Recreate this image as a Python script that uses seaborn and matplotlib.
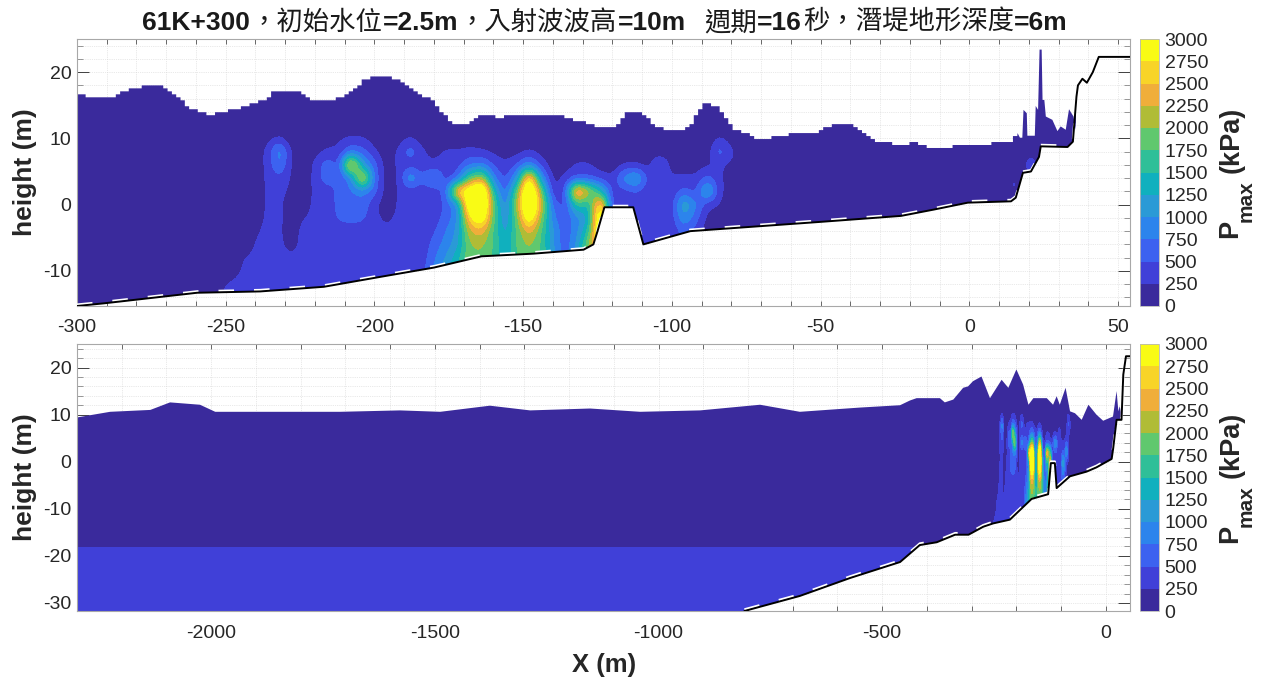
import numpy as np
import matplotlib
matplotlib.use("Agg")
import matplotlib.pyplot as plt
from matplotlib.colors import ListedColormap, BoundaryNorm
from matplotlib.patches import Polygon
from matplotlib.ticker import MultipleLocator
import seaborn as sns

sns.set_style("white")
plt.rcParams["font.family"] = ["Liberation Sans", "Noto Sans CJK TC", "DejaVu Sans"]
plt.rcParams["axes.unicode_minus"] = False

# ---- data ----
levels = list(range(0, 3001, 250))
level_colors = ["#3A2A9C", "#4040D8", "#3C62F0", "#2C84EC", "#2A9AD6", "#10B0BE",
                "#2FBF98", "#60C86E", "#B0BC36", "#F0AE3A", "#F8D428", "#F9FB15"]

# bed profile, near-shore view
bed_x_top = [-300, -291, -259.6, -238.4, -217, -198, -180, -164, -146.6, -129.7, -126.4, -125, -122.7,
             -113, -109.6, -93.8, -75, -50, -23, -12, -0.5, 14, 15.6, 18, 20.7, 23.4, 24, 33, 34.8,
             36, 36.5, 38, 39.5, 41.5, 43.5, 54]
bed_z_top = [-15.3, -14.9, -13.3, -13.1, -12.4, -10.9, -9.5, -7.8, -7.4, -6.8, -6, -4, -0.4,
             -0.4, -6, -4, -3.4, -2.6, -1.7, -0.75, 0.3, 0.5, 1.05, 4.8, 5, 7.2, 8.8, 8.7, 9.5,
             16.3, 18, 19, 18.4, 20, 22.3, 22.3]
# envelope of the pressure field, near-shore view
surf_x_top = [-300, -293.4, -288.9, -285.5, -282.2, -277.1, -272, -267.6, -262, -255.2, -247.4, -237.3, -234,
              -225, -220, -216, -209.3, -203, -198.6, -193, -189, -184.6, -181.2, -178.4, -173.4, -168.9,
              -164.4, -160.5, -158.8, -154.9, -136.9, -132.4, -127.9, -125.1, -119, -115, -110, -105, -101,
              -97, -93.7, -89.4, -84.3, -78.6, -70, -60, -53, -46.6, -40, -33, -23, -19, -11.9, -6.5, -6.3,
              7.2, 8.3, 13.9, 16.2, 17, 17.8, 18.2, 19.3, 19.5, 22, 22.3, 23.1, 23.6, 24.3, 24.6, 25.2, 25.7,
              27.9, 29.6, 30.7, 32.4, 33.5, 35, 35.8]
surf_z_top = [16.9, 16, 16.1, 16.8, 17.4, 17.9, 17.9, 16.8, 14.6, 13.5, 14.3, 15.8, 16.9,
              16.9, 15.6, 15.6, 16.6, 18.9, 19.5, 19, 17.9, 16.6, 16.1, 14.6, 12.1, 12.1,
              13.4, 13.4, 12.9, 13.4, 13.4, 12.7, 12.3, 11.6, 11.6, 13.8, 13.8, 11.8, 11.2,
              11.2, 12.1, 15.4, 14.6, 11.3, 9.8, 10.6, 10.6, 11.9, 12.4, 9.8, 8.9, 9.4, 8.55, 8.55, 8.9,
              8.9, 9.4, 9.6, 10.8, 10.1, 10.1, 14.3, 13.8, 10.4, 10.4, 14.9, 14.3, 23.4, 23.4, 15.8, 15.8, 13.3,
              12.8, 11.1, 11.8, 11.3, 14.4, 13.3, 11.3]

# bed profile, whole transect
bed_x_low = [-808, -684, -572, -460, -416, -378, -337, -307, -274, -252, -214.5, -166, -129, -123,
             -114, -110, -80.3, -43, -21, 13, 16.5, 24, 35, 39, 45, 55]
bed_z_low = [-31.7, -28.5, -24.7, -21.3, -17.7, -17.1, -15.5, -15.5, -13.8, -13.1, -12.3, -7.9, -6.9, -0.3,
             -0.3, -5.6, -3.1, -2.1, -1.2, 0.6, 2.9, 8.9, 8.9, 18.5, 22.4, 22.4]
surf_x_low = [-2300, -2226, -2136, -2092, -2025, -1991, -1712, -1578, -1488, -1377, -1287, -1153, -1041, -907,
              -773, -684, -550, -460, -438, -423, -371, -360, -341, -319, -308, -297, -278, -259, -233, -218,
              -200, -185, -173, -162, -132, -118, -110, -103, -90, -80, -69, -54, -39, -21, -6, 16, 24, 28, 31, 35]
surf_z_low = [9.4, 10.6, 11, 12.6, 12.1, 10.6, 10.6, 10.9, 10.6, 11.9, 10.9, 11.3, 10.6, 10.9,
              12.1, 10.6, 11.5, 12, 13, 13.5, 13.5, 12.6, 13.2, 15.7, 16, 17.1, 18.1, 13.5, 17.4, 15.7,
              19.6, 16.4, 12.1, 13.5, 13.5, 12.1, 13.9, 12.1, 15.7, 10.7, 10.3, 8.9, 12.1, 10, 8.7, 9.6, 15, 10.7, 11.8, 10]

# Pmax samples in units of 100 kPa: one row per x station, one value per height
p_z = [12, 10, 8, 6, 4, 2, 0, -2, -4, -6, -8, -10, -12, -14]
p_x = [-252, -248, -244, -240, -236, -232, -228, -224, -220, -216, -212, -208, -204, -200, -196, -192, -188,
       -184, -180, -176, -172, -168, -164, -160, -156, -152, -148, -144, -140, -136, -132, -128, -124, -120,
       -116, -112, -108, -104, -100, -96, -92, -88, -84, -80, -76, -72, 13, 15, 18, 21, 23]
p_100kpa = [
    [0, 0, 0, 0, 0, 0, 0, 0, 0, 0, 0, 0, 2.2, 2.2],
    [0, 0, 0, 0, 0, 0, 0, 0, 0, 0, 0, 1, 3, 3],
    [0, 0, 0, 0, 0, 0, 0, 0, 0, .5, 2.6, 3, 3.5, 3.5],
    [0, 0, 1, 1, 1, 1, 1, 1.5, 2.2, 2.8, 3, 3.5, 3.5, 3.5],
    [0, 1.5, 3, 3, 2.9, 2.9, 2.9, 2.9, 3, 3, 3.5, 3.5, 3.5, 3.5],
    [0, 3, 10, 8, 4.5, 3, 2.9, 2.9, 2.8, 3, 3.5, 3.5, 3.5, 3.5],
    [0, .5, 2, 2, 2, 2, 1.5, 1.5, 1.5, 1.5, 2.8, 3.5, 3.5, 3.5],
    [0, 0, 1, 1, 1, 1, 1.5, 2.4, 3, 3.2, 3.5, 3.5, 3.5, 3.5],
    [0, 0, 1.5, 2.8, 3, 3, 3, 3, 3.2, 3.5, 3.5, 3.5, 3.5, 3.5],
    [0, 1, 3, 7, 7, 3.2, 3, 3, 3, 3.5, 3.5, 3.5, 3.5, 3.5],
    [0, 2, 3, 4, 4.5, 6, 6, 5.5, 3.2, 3.5, 3.8, 3.8, 3.8, 3.8],
    [0, 3, 7, 28, 8, 7, 6.5, 6, 3.5, 3.8, 3.8, 3.8, 3.8, 3.8],
    [0, 2.8, 6, 11, 26, 8, 7, 5.5, 3.5, 3.8, 3.8, 3.8, 3.8, 3.8],
    [0, 1, 3, 6, 6.5, 6, 2.8, 3, 3, 3.5, 3.5, 3.5, 3.5, 3.5],
    [0, 0, .5, 1, 1, 1, 1, 2, 3, 3.8, 3.8, 3.8, 3.8, 3.8],
    [0, 1, 3, 3, 2, 2.8, 2.8, 2.9, 3, 3.2, 3.2, 3.2, 3.2, 3.2],
    [0, 3, 7, 3.5, 11, 3, 3, 3, 3.3, 3, 3, 3, 3, 3],
    [0, 1, 3, 3, 5.5, 3, 2.9, 3, 3.3, 3, 3.5, 3.8, 3.8, 3.8],
    [0, 0, 1.5, 3, 10, 3.2, 3, 3.5, 4.5, 6, 7, 8, 8, 8],
    [0, .5, 3, 3.5, 3.5, 6, 5.5, 6, 7.5, 8.5, 10, 12, 12, 12],
    [0, 0, 3, 3.8, 6, 28, 9, 9, 10.5, 11.5, 14, 15, 15, 15],
    [0, .5, 3.5, 7, 18, 32, 34, 27, 22, 20, 19.5, 19.5, 19.5, 19.5],
    [0, 0, 3, 8, 22, 38, 38, 32, 24, 20.5, 19.5, 19.5, 19.5, 19.5],
    [0, 0, 2, 4.5, 8, 14, 18, 18, 17, 17.5, 17, 17, 17, 17],
    [0, 0, 1, 3, 4, 5.5, 7.5, 9, 11, 12, 12, 12, 12, 12],
    [0, 0, 1.5, 5, 10, 18, 21, 19, 18, 18, 18, 18, 18, 18],
    [0, 0, 3, 9, 30, 38, 38, 32, 24, 20.5, 19.5, 19.5, 19.5, 19.5],
    [0, 0, 1.5, 4, 10, 19, 23, 20, 17.5, 17.5, 17.5, 17.5, 17.5, 17.5],
    [0, 0, .5, 1, 1.5, 2.4, 6, 8, 10, 10, 11, 11, 11, 11],
    [0, 0, 0, 1, 3, 4, 4, 5, 5.5, 5.5, 6, 6, 6, 6],
    [0, 0, .5, 3, 5, 30, 16, 9, 9, 10, 11, 11, 11, 11],
    [0, 0, 0, 3, 5, 22, 14, 12, 15, 20, 20, 20, 20, 20],
    [0, 0, 0, 1, 4, 14, 30, 36, 35, 30, 28, 28, 28, 28],
    [0, 0, 0, .5, 3, 3.5, 3, 3, 3, 3, 3, 3, 3, 3],
    [0, 0, 0, 2.8, 9, 4, 2.9, 3, 3, 3, 3, 3, 3, 3],
    [0, 0, 0, 2.8, 12, 5, 2.9, 3, 3, 3, 3, 3, 3, 3],
    [0, 0, 0, 1.5, 4, 3, 3, 3, 3, 4, 4, 4, 4, 4],
    [0, 0, .5, 7, 3, 3, 3, 3, 3, 3, 3, 3, 3, 3],
    [0, 0, 0, 1, 3, 3, 3.5, 3.5, 3, 3, 3, 3, 3, 3],
    [0, 0, 0, 1, 3, 6, 13, 10, 6, 6, 6, 6, 6, 6],
    [0, 0, 0, 1, 3, 4, 8, 6, 4, 4, 4, 4, 4, 4],
    [0, .5, 1, 2, 6, 13, 3, 1.5, 1, 1, 1, 1, 1, 1],
    [0, 3, 7, 3, 3, 3, 2.4, 1, .5, 0, 0, 0, 0, 0],
    [0, 1, 3, 1.5, 1, 1, .5, 0, 0, 0, 0, 0, 0, 0],
    [0, 0, .5, 3, 3, 1, 0, 0, 0, 0, 0, 0, 0, 0],
    [0, 0, 0, 0, 0, 0, 0, 0, 0, 0, 0, 0, 0, 0],
    [0, 0, 0, 0, 0, 0, 0, 0, 0, 0, 0, 0, 0, 0],
    [0, 0, 0, 0, 4, 4, 0, 0, 0, 0, 0, 0, 0, 0],
    [0, 0, 0, 0, 0, 0, 0, 0, 0, 0, 0, 0, 0, 0],
    [0, 0, 0, 8, 0, 0, 0, 0, 0, 0, 0, 0, 0, 0],
    [0, 0, 0, 0, 0, 0, 0, 0, 0, 0, 0, 0, 0, 0],
]
# deep offshore band of the whole transect, 100 kPa
deep_z = [-18.1, -32]
deep_value = 3.5
above_deep_value = 1.0
far_x = [-2300, -460]

title_parts = [("61K+300", "bold"), ("，初始水位", "normal"), ("=2.5m", "bold"), ("，入射波波高", "normal"),
               ("=10m", "bold"), ("週期", "normal"), ("=16", "bold"), ("秒，潛堤地形深度", "normal"), ("=6m", "bold")]
cbar_ticks = levels

# ---- drawing ----
W, H = 1270, 678
fig = plt.figure(figsize=(W / 100, H / 100), dpi=100)
INK = "#262626"

def rect(x0, y0, x1, y1):
    return [x0 / W, 1 - y1 / H, (x1 - x0) / W, (y1 - y0) / H]

ax1 = fig.add_axes(rect(77, 39, 1130, 306))
ax2 = fig.add_axes(rect(77, 344, 1130, 611))
cax1 = fig.add_axes(rect(1140, 39, 1159, 306))
cax2 = fig.add_axes(rect(1140, 344, 1159, 611))

cmap = ListedColormap(level_colors)
norm = BoundaryNorm(levels, cmap.N)

near = np.array(p_100kpa, dtype=float).T  # rows = heights (top down), cols = stations
near_z = np.array(p_z, dtype=float)

# near-shore grid: zero margins left and right
x1 = np.array([-300] + p_x + [55], dtype=float)
Z1 = np.hstack([np.zeros((len(p_z), 1)), near, np.zeros((len(p_z), 1))])
z1 = np.concatenate([[26], near_z, [-16]])
Z1 = np.vstack([np.zeros((1, Z1.shape[1])), Z1, Z1[-1]])

# whole-transect grid
x2 = np.array(far_x + p_x + [55], dtype=float)
Z2 = np.hstack([np.zeros((len(p_z), 2)), near, np.zeros((len(p_z), 1))])
z2 = np.concatenate([[26], near_z, [-17.9], deep_z])
Z2 = np.vstack([np.zeros((1, Z2.shape[1])), Z2,
                np.full((1, Z2.shape[1]), above_deep_value),
                np.full((2, Z2.shape[1]), deep_value)])

def smooth_field(x, z, P, dx, dz, sx=1.2, sz=0.6):
    """Resample the hand-read samples onto a finer grid and soften the contour corners."""
    zr = z[::-1]
    Pr = P[::-1]
    xf = np.arange(x[0], x[-1] + dx, dx)
    zf = np.arange(zr[0], zr[-1] + dz, dz)
    A = np.array([np.interp(xf, x, row) for row in Pr])
    A = np.array([np.interp(zf, zr, col) for col in A.T]).T
    def kern(s, d):
        n = max(1, int(round(3 * s / d)))
        t = np.arange(-n, n + 1) * d
        k = np.exp(-0.5 * (t / s) ** 2)
        return k / k.sum(), n
    kx, nx = kern(sx, dx)
    kz, nz = kern(sz, dz)
    A = np.pad(A, ((nz, nz), (nx, nx)), mode="edge")
    A = np.apply_along_axis(lambda r: np.convolve(r, kx, mode="valid"), 1, A)
    A = np.apply_along_axis(lambda c: np.convolve(c, kz, mode="valid"), 0, A)
    return xf, zf, np.clip(A * 100, 0, 2999)

def blocky(sx, sz, x_end, cell_x=1.45, cell_z=0.45):
    """Stair-step the envelope the way the gridded field does, up to x_end."""
    sx = np.asarray(sx, float)
    sz = np.asarray(sz, float)
    edges = np.arange(sx[0], x_end, cell_x)
    mid = np.interp(edges + cell_x / 2, sx, sz)
    mid = np.round(mid / cell_z) * cell_z
    xs, zs = [], []
    for e, m in zip(edges, mid):
        xs += [e, e + cell_x]
        zs += [m, m]
    rest = sx > edges[-1] + cell_x
    return xs + list(sx[rest]), zs + list(sz[rest])

def draw(ax, x, z, P, sx, sz, bx, bz, xlim, ylim, xmaj, xmin, dash, dx, dz, pad):
    ax.set_xlim(*xlim)
    ax.set_ylim(*ylim)
    xf, zf, A = smooth_field(x, z, P, dx, dz)
    cs = ax.contourf(xf, zf, A, levels=levels, cmap=cmap, norm=norm, extend="neither", zorder=2)
    top = list(zip(sx, sz))
    last_x = sx[-1]
    bot = [(a, b) for a, b in zip(bx, bz) if a <= last_x]
    corner = [(last_x, np.interp(last_x, bx, bz))]
    tail = [(xlim[0], ylim[0])] if bx[0] > xlim[0] else []
    poly = Polygon(top + corner + bot[::-1] + tail, closed=True, transform=ax.transData, fc="none", ec="none")
    ax.add_patch(poly)
    cs.set_clip_path(poly)
    sns.lineplot(x=bx, y=bz, sort=False, estimator=None, color="black", linewidth=1.4, ax=ax, zorder=4)
    ax.plot(bx, np.array(bz) + dash, color="white", lw=1.6, ls=(0, (7, 9)), zorder=3)
    ax.xaxis.set_major_locator(MultipleLocator(xmaj))
    ax.xaxis.set_minor_locator(MultipleLocator(xmin))
    ax.yaxis.set_major_locator(MultipleLocator(10))
    ax.yaxis.set_minor_locator(MultipleLocator(2))
    ax.grid(which="both", color="#d4d4d4", lw=0.5, ls=":", zorder=0)
    ax.set_axisbelow(True)
    ax.tick_params(axis="x", which="both", direction="in", length=3.6, width=0.6, color="#505050",
                   top=True, bottom=True, labelsize=14, labelcolor=INK, pad=pad)
    ax.tick_params(axis="y", which="major", direction="in", length=8.6, width=0.7, color="#404040",
                   left=True, right=True, labelsize=14, labelcolor=INK, pad=4)
    ax.tick_params(axis="y", which="minor", direction="in", length=4, width=0.5, color="#707070",
                   left=True, right=True)
    for s in ax.spines.values():
        s.set_color("#a8a8a8")
        s.set_linewidth(0.8)
    ax.set_ylabel("height (m)", fontsize=19, fontweight="bold", color=INK)
    ax.yaxis.set_label_coords((37 - 77) / 1053, 0.5)
    ax.set_xlabel("")

bx_top, bz_top = blocky(surf_x_top, surf_z_top, 16.0)
draw(ax1, x1, z1, Z1, bx_top, bz_top, bed_x_top, bed_z_top, (-300, 54), (-15.3, 25), 50, 10, 0.22, 1.0, 0.25, 9.5)
draw(ax2, x2, z2, Z2, surf_x_low, surf_z_low, bed_x_low, bed_z_low, (-2300, 54), (-31.7, 25), 500, 100, 0.35, 1.0, 0.25, 10)
ax2.set_xlabel("X (m)", fontsize=18.5, fontweight="bold", color=INK)
ax2.xaxis.set_label_coords((604 - 77) / 1053, (611 - 653) / 267)

for cax, dy in ((cax1, 0), (cax2, 305)):
    sm = plt.cm.ScalarMappable(norm=norm, cmap=cmap)
    cb = fig.colorbar(sm, cax=cax, spacing="proportional", ticks=cbar_ticks, drawedges=False)
    cb.ax.tick_params(length=0, labelsize=14, labelcolor=INK, pad=4)
    cb.outline.set_edgecolor("#b8b8b8")
    cb.outline.set_linewidth(0.6)
    cb.ax.minorticks_off()
    for s, xc, yb, fs in (("P", 1230, 238, 19.5), ("max", 1246, 222, 15), ("(kPa)", 1232, 173, 19.5)):
        fig.text(xc / W, 1 - (yb + dy) / H, s, rotation=90, ha="center", va="bottom",
                 fontsize=fs, fontweight="bold", color=INK)

# title: bold Latin and regular CJK runs side by side
renderer = fig.canvas.get_renderer()
px = 142.0
for s, w in title_parts:
    fam = ["Liberation Sans"] if w == "bold" else ["Noto Sans CJK TC"]
    t = fig.text(px / W, 1 - 30 / H, s, fontsize=19, fontweight=w, family=fam, va="baseline", ha="left",
                 color="#1a1a1a")
    px += t.get_window_extent(renderer).width + 0.5
    if s == "=10m":
        px += 18

fig.savefig("out.png", dpi=100, facecolor="white")
